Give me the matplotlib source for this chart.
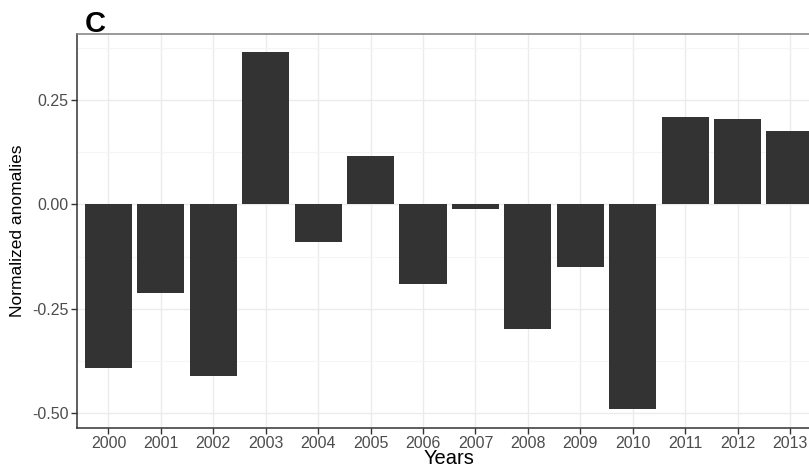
import numpy as np
import matplotlib.pyplot as plt
from matplotlib.ticker import MultipleLocator

plt.rcParams['font.family'] = ['Liberation Sans', 'DejaVu Sans']

years = ["2000", "2001", "2002", "2003", "2004", "2005", "2006",
         "2007", "2008", "2009", "2010", "2011", "2012", "2013"]
anomalies = [-0.391, -0.212, -0.410, 0.365, -0.090, 0.116, -0.190,
             -0.011, -0.298, -0.150, -0.489, 0.209, 0.205, 0.177]
y_ticks = [-0.50, -0.25, 0.00, 0.25]

fig = plt.figure(figsize=(8.09, 4.68), dpi=100)
# panel runs a little past the right edge of the figure
ax = fig.add_axes([77 / 809, 40 / 468, 744.5 / 809, 394 / 468])

x = np.arange(1, len(years) + 1)
ax.bar(x, anomalies, width=0.9, color="#333333", zorder=3)

ax.set_xlim(0.4, len(years) + 0.6)
ax.set_ylim(-0.535, 0.408)
ax.set_xticks(x)
ax.set_xticklabels(years)
ax.set_yticks(y_ticks)
ax.set_yticklabels([f"{v:.2f}" for v in y_ticks])
ax.yaxis.set_minor_locator(MultipleLocator(0.125))

ax.grid(which="major", color="#EBEBEB", linewidth=1.0, zorder=0)
ax.grid(which="minor", axis="y", color="#F5F5F5", linewidth=0.8, zorder=0)
ax.set_axisbelow(True)

for side in ["left", "bottom"]:
    ax.spines[side].set_color("#333333")
    ax.spines[side].set_linewidth(1.1)
ax.spines["top"].set_color("#7F7F7F")
ax.spines["top"].set_linewidth(1.1)
ax.spines["right"].set_visible(False)

ax.tick_params(which="major", length=4, width=1, color="#333333",
               labelsize=11.5, labelcolor="#4D4D4D", pad=2)
ax.tick_params(which="minor", length=0)

ax.set_xlabel("Years", fontsize=14.5, va="baseline")
ax.xaxis.set_label_coords(0.5, -0.091)
ax.set_ylabel("Normalized anomalies", fontsize=12.5, labelpad=5)

fig.text(85 / 809, 1 - 32 / 468, "C", fontsize=21, fontweight="bold",
         ha="left", va="baseline")

fig.savefig("out.png", dpi=100)
